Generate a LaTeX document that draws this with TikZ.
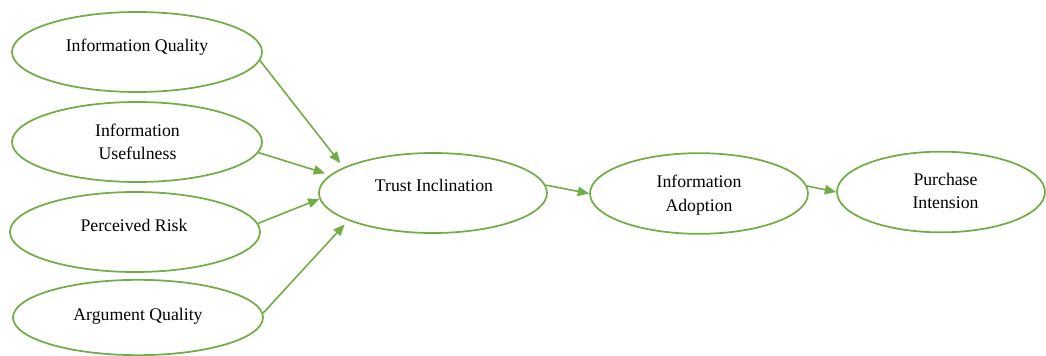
\documentclass[tikz,border=0pt]{standalone}
\usepackage{fontspec}
\setmainfont{Liberation Serif}
\usetikzlibrary{arrows.meta,shapes.geometric}
\definecolor{leaf}{RGB}{112,173,71}
\begin{document}
\begin{tikzpicture}[x=0.75pt,y=-0.75pt,
  oval/.style={ellipse, draw=leaf, line width=1.3pt, inner sep=0pt},
  lbl/.style={font=\fontsize{13.3}{17.25}\selectfont, align=center, inner sep=0pt, anchor=base},
  link/.style={draw=leaf, line width=1.2pt, -{Triangle[length=8.5pt,width=7pt]}}]
\useasboundingbox (0,0) rectangle (1046,356);

% constructs
\node[oval, minimum width=187.5pt, minimum height=60pt] (iq) at (137,52) {};
\node[oval, minimum width=187.5pt, minimum height=60pt] (iu) at (137,142) {};
\node[oval, minimum width=187.5pt, minimum height=60pt] (pr) at (135,232) {};
\node[oval, minimum width=187.5pt, minimum height=56.5pt] (aq) at (138,317.5) {};
\node[oval, minimum width=171pt, minimum height=60pt] (ti) at (433,193) {};
\node[oval, minimum width=163.5pt, minimum height=60.5pt] (ia) at (699,193.5) {};
\node[oval, minimum width=156pt, minimum height=60.5pt] (pi) at (941,192) {};

% labels (multi-line labels sit on the baseline of their last line)
\node[lbl] (iqt) at (137,52) {Information Quality};
\node[lbl] (iut) at (137.5,160) {Information\\Usefulness};
\node[lbl] (prt) at (134,232) {Perceived Risk};
\node[lbl] (aqt) at (138,320) {Argument Quality};
\node[lbl] (tit) at (434,192) {Trust Inclination};
\node[lbl] (iat) at (699,211) {Information\\Adoption};
\node[lbl] (pit) at (945.5,209) {Purchase\\Intension};

% paths
\draw[link, shorten >=4pt] (iq.-4) -- (ti.164);
\draw[link, shorten >=4pt] (iu.-5) -- (ti.170);
\draw[link] (pr.4) -- (ti.183);
\draw[link, shorten >=4pt] (aq.2) -- (ti.198);
\draw[link] (ti.4) -- (ia.180);
\draw[link] (ia.4) -- (pi.180);
\end{tikzpicture}
\end{document}
